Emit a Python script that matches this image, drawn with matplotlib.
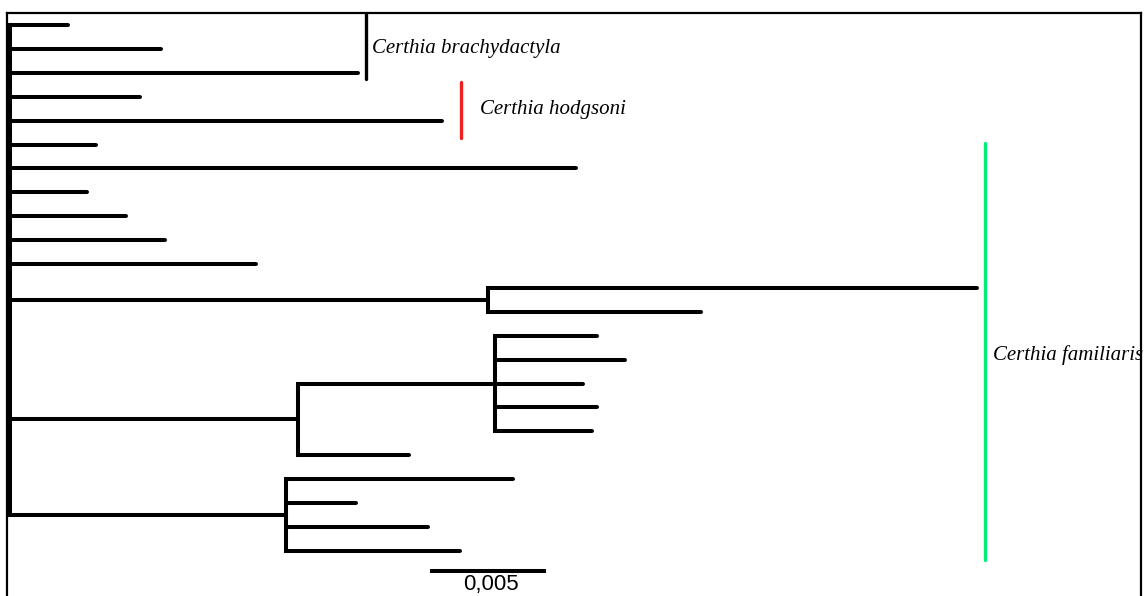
import matplotlib
matplotlib.use("Agg")
import matplotlib.pyplot as plt

# ---- data (branch lengths, substitutions/site) ----
direct_leaf_lengths = [0.0025, 0.0065, 0.0150, 0.0056, 0.0186, 0.0037,
                       0.0244, 0.0033, 0.0050, 0.0067, 0.0106]
cladeA_stem = 0.0206
cladeA_leaves = [0.0211, 0.0092]
cladeB_stem = 0.0124
cladeB_sub_stem = 0.0085
cladeB_sub_leaves = [0.0044, 0.0056, 0.0038, 0.0044, 0.0042]
cladeB_leaf = 0.0048
cladeC_stem = 0.0119
cladeC_leaves = [0.0098, 0.0030, 0.0061, 0.0075]

species_labels = ["Certhia brachydactyla", "Certhia hodgsoni", "Certhia familiaris"]
species_colors = ["#000000", "#ee2020", "#00ee77"]
species_bar_x = [0.01534, 0.01944, 0.04203]
species_bar_span = [(-0.46, 2.24), (2.38, 4.73), (4.94, 22.38)]
species_text_y = [0.99, 3.54, 13.80]
species_text_gap_px = [6, 19, 8]
scale_length = 0.005
scale_label = "0,005"

# ---- build tree ----
def leaf(l):
    return (l, [])

tree = (0.0,
        [leaf(l) for l in direct_leaf_lengths]
        + [(cladeA_stem, [leaf(l) for l in cladeA_leaves])]
        + [(cladeB_stem, [(cladeB_sub_stem, [leaf(l) for l in cladeB_sub_leaves]),
                          leaf(cladeB_leaf)])]
        + [(cladeC_stem, [leaf(l) for l in cladeC_leaves])])

W, H = 1145, 596
fig = plt.figure(figsize=(W / 100, H / 100), dpi=100)

# frame
fax = fig.add_axes([7 / W, -0.1, (1141 - 7) / W, (H - 13) / H + 0.1])
fax.set_xticks([]); fax.set_yticks([])
for s in fax.spines.values():
    s.set_linewidth(1.6)
    s.set_color("black")

ax = fig.add_axes([0, 0, 1, 1])
ax.set_facecolor("none")
ax.axis("off")
px_per_unit = 116 / 0.005
px_per_leaf = 23.9
x0px, y0px = 10, 25
ax.set_xlim(-x0px / px_per_unit, (W - x0px) / px_per_unit)
ax.set_ylim((H - y0px) / px_per_leaf, -y0px / px_per_leaf)

lw = 2.9
counter = [0]

def draw(node, x0):
    length, children = node
    x1 = x0 + length
    if not children:
        y = counter[0]
        counter[0] += 1
        ax.plot([x0, x1], [y, y], color="black", lw=lw, solid_capstyle="round")
        return y
    ys = [draw(c, x1) for c in children]
    y = (ys[0] + ys[-1]) / 2
    ax.plot([x1, x1], [ys[0], ys[-1]], color="black", lw=lw, solid_capstyle="projecting")
    if length > 0:
        ax.plot([x0, x1], [y, y], color="black", lw=lw, solid_capstyle="round")
    return y

draw(tree, 0.0)

# species bars
for lab, c, bx, (ya, yb), ty, gap in zip(species_labels, species_colors, species_bar_x,
                                         species_bar_span, species_text_y, species_text_gap_px):
    ax.plot([bx, bx], [ya, yb], color=c, lw=2.4, solid_capstyle="round")
    ax.text(bx + gap / px_per_unit, ty, lab, fontsize=15,
            family="Liberation Serif", style="italic", va="center", ha="left")

# scale bar
sx = 420 / px_per_unit
sy = (571 - y0px) / px_per_leaf
ax.plot([sx, sx + scale_length], [sy, sy], color="black", lw=2.9, solid_capstyle="butt")
ax.text(sx + scale_length / 2 + 3 / px_per_unit, (595 - y0px) / px_per_leaf, scale_label,
        fontsize=16, family="Liberation Sans", ha="center", va="bottom")

fig.savefig("out.png", dpi=100)
